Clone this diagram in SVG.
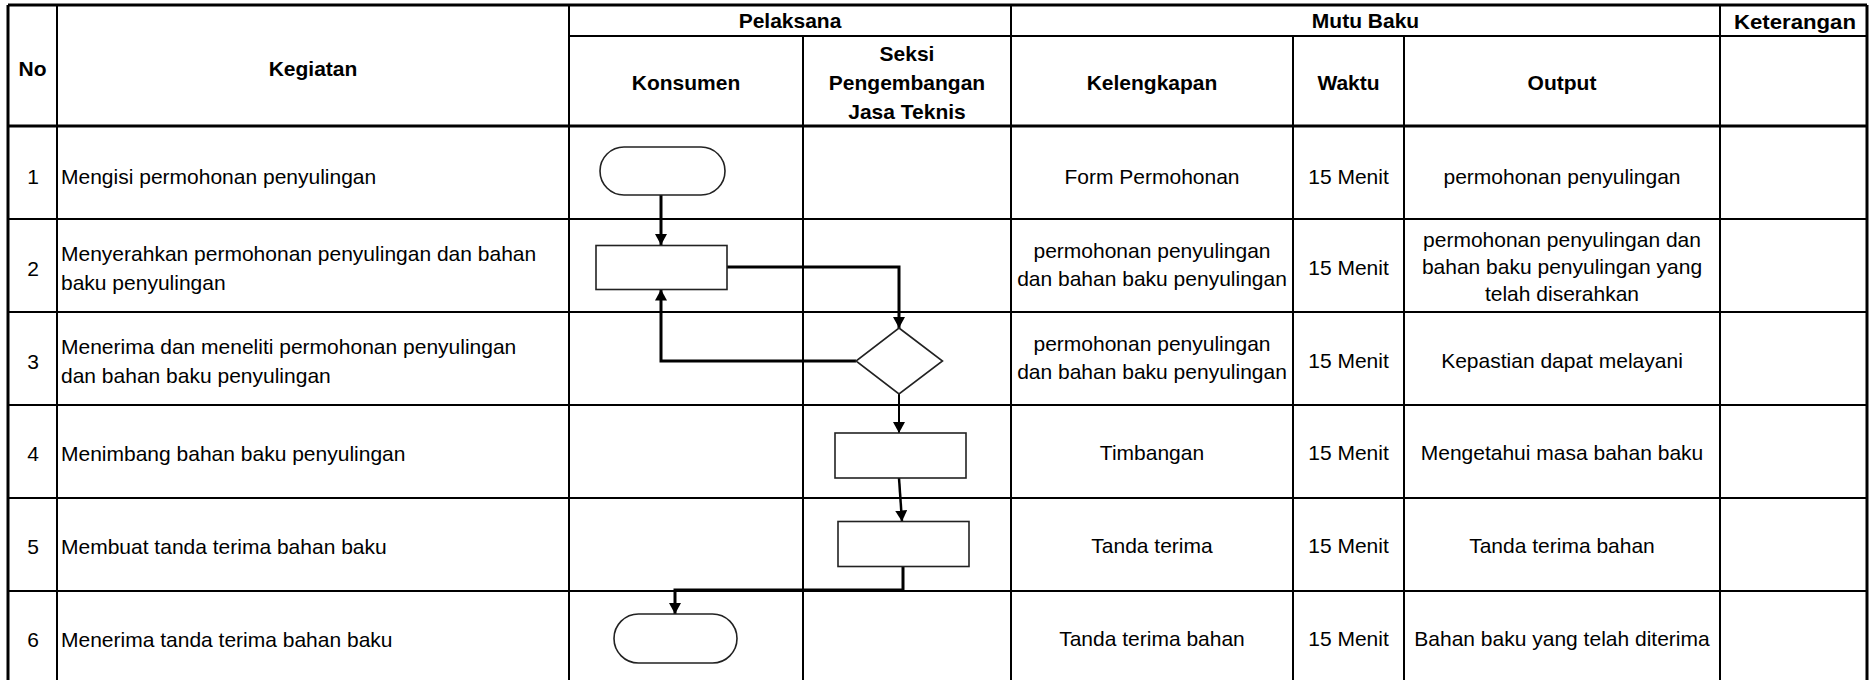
<svg xmlns="http://www.w3.org/2000/svg" width="1872" height="680" viewBox="0 0 1872 680">
<style>
.grid{stroke:#000;stroke-width:2;fill:none}
.outer{stroke:#000;stroke-width:3;fill:none}
.h{font-family:"Liberation Sans",Arial,sans-serif;font-size:21px;font-weight:bold;fill:#000;text-anchor:middle}
.t{font-family:"Liberation Sans",Arial,sans-serif;font-size:21px;fill:#000}
.c{text-anchor:middle}
.shape{fill:#fff;stroke:#222;stroke-width:1.6}
.conn{fill:none;stroke:#000;stroke-width:3}
</style>
<defs>
<marker id="arr" markerUnits="userSpaceOnUse" markerWidth="12" markerHeight="12" refX="11" refY="6" orient="auto">
<path d="M0,0 L11,6 L0,12 z" fill="#000"/>
</marker>
</defs>
<rect x="0" y="0" width="1872" height="680" fill="#fff"/>
<g id="grid">
<line class="outer" x1="8" y1="5" x2="1867" y2="5"/>
<line class="outer" x1="8" y1="5" x2="8" y2="680"/>
<line class="outer" x1="1867" y1="5" x2="1867" y2="680"/>
<line class="grid" x1="569" y1="36" x2="1867" y2="36"/>
<line class="grid" x1="8" y1="126" x2="1867" y2="126" style="stroke-width:3"/>
<line class="grid" x1="8" y1="219" x2="1867" y2="219"/>
<line class="grid" x1="8" y1="312" x2="1867" y2="312"/>
<line class="grid" x1="8" y1="405" x2="1867" y2="405"/>
<line class="grid" x1="8" y1="498" x2="1867" y2="498"/>
<line class="grid" x1="8" y1="591" x2="1867" y2="591"/>
<line class="grid" x1="57" y1="5" x2="57" y2="680"/>
<line class="grid" x1="569" y1="5" x2="569" y2="680"/>
<line class="grid" x1="803" y1="36" x2="803" y2="680"/>
<line class="grid" x1="1011" y1="5" x2="1011" y2="680"/>
<line class="grid" x1="1293" y1="36" x2="1293" y2="680"/>
<line class="grid" x1="1404" y1="36" x2="1404" y2="680"/>
<line class="grid" x1="1720" y1="5" x2="1720" y2="680"/>
</g>
<g id="header">
<text class="h" x="32.5" y="76">No</text>
<text class="h" x="313" y="76">Kegiatan</text>
<text class="h" x="790" y="28">Pelaksana</text>
<text class="h" x="1365.5" y="28">Mutu Baku</text>
<text class="h" x="1795" y="29" textLength="122" lengthAdjust="spacingAndGlyphs">Keterangan</text>
<text class="h" x="686" y="90">Konsumen</text>
<text class="h" x="907" y="61">Seksi</text>
<text class="h" x="907" y="90">Pengembangan</text>
<text class="h" x="907" y="119">Jasa Teknis</text>
<text class="h" x="1152" y="90">Kelengkapan</text>
<text class="h" x="1348.5" y="90">Waktu</text>
<text class="h" x="1562" y="90">Output</text>
</g>
<g id="rows">
<text class="t c" x="33" y="184">1</text>
<text class="t" x="61" y="184">Mengisi permohonan penyulingan</text>
<text class="t c" x="1152" y="183.5">Form Permohonan</text>
<text class="t c" x="1348.5" y="183.5">15 Menit</text>
<text class="t c" x="1562" y="183.5">permohonan penyulingan</text>

<text class="t c" x="33" y="276">2</text>
<text class="t" x="61" y="260.5">Menyerahkan permohonan penyulingan dan bahan</text>
<text class="t" x="61" y="289.5">baku penyulingan</text>
<text class="t c" x="1152" y="258">permohonan penyulingan</text>
<text class="t c" x="1152" y="286">dan bahan baku penyulingan</text>
<text class="t c" x="1348.5" y="274.5">15 Menit</text>
<text class="t c" x="1562" y="246.5">permohonan penyulingan dan</text>
<text class="t c" x="1562" y="273.5">bahan baku penyulingan yang</text>
<text class="t c" x="1562" y="300.5">telah diserahkan</text>

<text class="t c" x="33" y="369">3</text>
<text class="t" x="61" y="353.5">Menerima dan meneliti permohonan penyulingan</text>
<text class="t" x="61" y="382.5">dan bahan baku penyulingan</text>
<text class="t c" x="1152" y="351">permohonan penyulingan</text>
<text class="t c" x="1152" y="379">dan bahan baku penyulingan</text>
<text class="t c" x="1348.5" y="367.5">15 Menit</text>
<text class="t c" x="1562" y="367.5">Kepastian dapat melayani</text>

<text class="t c" x="33" y="461">4</text>
<text class="t" x="61" y="461">Menimbang bahan baku penyulingan</text>
<text class="t c" x="1152" y="460">Timbangan</text>
<text class="t c" x="1348.5" y="460">15 Menit</text>
<text class="t c" x="1562" y="460">Mengetahui masa bahan baku</text>

<text class="t c" x="33" y="554">5</text>
<text class="t" x="61" y="554">Membuat tanda terima bahan baku</text>
<text class="t c" x="1152" y="553">Tanda terima</text>
<text class="t c" x="1348.5" y="553">15 Menit</text>
<text class="t c" x="1562" y="553">Tanda terima bahan</text>

<text class="t c" x="33" y="647">6</text>
<text class="t" x="61" y="647">Menerima tanda terima bahan baku</text>
<text class="t c" x="1152" y="646">Tanda terima bahan</text>
<text class="t c" x="1348.5" y="646">15 Menit</text>
<text class="t c" x="1562" y="646">Bahan baku yang telah diterima</text>
</g>
<g id="connectors">
<path class="conn" d="M661,195 L661,245" marker-end="url(#arr)"/>
<path class="conn" d="M727,267 L899,267 L899,328" marker-end="url(#arr)"/>
<path class="conn" d="M856,361 L661,361 L661,289.5" marker-end="url(#arr)"/>
<path class="conn" d="M899,394 L899,433" marker-end="url(#arr)" style="stroke-width:2"/>
<path class="conn" d="M899,478 L902,521.5" marker-end="url(#arr)" style="stroke-width:2.5"/>
<path class="conn" d="M903,567 L903,590 L675,590 L675,614" marker-end="url(#arr)"/>
</g>
<g id="node1"><rect class="shape" x="600" y="147" width="125" height="48" rx="24" ry="24"/></g>
<g id="node2"><rect class="shape" x="596" y="245.5" width="131" height="44"/></g>
<g id="node3"><polygon class="shape" points="899,328 942.5,361 899,394 856,361"/></g>
<g id="node4"><rect class="shape" x="835" y="433" width="131" height="45"/></g>
<g id="node5"><rect class="shape" x="838" y="521.5" width="131" height="45"/></g>
<g id="node6"><rect class="shape" x="614" y="614" width="123" height="49" rx="24.5" ry="24.5"/></g>
</svg>
